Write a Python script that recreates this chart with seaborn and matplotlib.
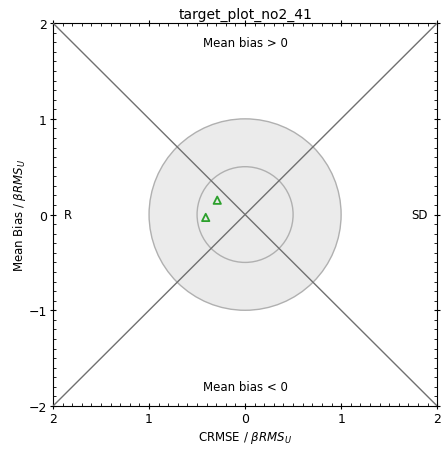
import numpy as np
import pandas as pd
import matplotlib
matplotlib.use('Agg')
import matplotlib.pyplot as plt
import seaborn as sns
from matplotlib.patches import Circle
from matplotlib.ticker import MultipleLocator, FuncFormatter

# 数据
crmse = [-0.29, -0.41]
mean_bias = [0.15, -0.03]
outer_radius = 1.0
inner_radius = 0.5
ticks = [-2, -1, 0, 1, 2]

df = pd.DataFrame({'crmse': crmse, 'bias': mean_bias})

fig = plt.figure(figsize=(4.42, 4.52), dpi=100)
ax = fig.add_axes([0.12, 0.0996, 0.869, 0.847])

# 外圆 / 内圆
ax.add_patch(Circle((0, 0), outer_radius, facecolor='#ebebeb', edgecolor='#b0b0b0', lw=1, zorder=1))
ax.add_patch(Circle((0, 0), inner_radius, facecolor='none', edgecolor='#b0b0b0', lw=1, zorder=2))

# 对角线
ax.plot([-2, 2], [-2, 2], color='#707070', lw=1, zorder=3)
ax.plot([-2, 2], [2, -2], color='#707070', lw=1, zorder=3)

sns.scatterplot(data=df, x='crmse', y='bias', marker='^', s=28,
                facecolor='none', edgecolor='#2ca02c', linewidth=1.3, ax=ax, zorder=4)

ax.text(0, 1.8, 'Mean bias > 0', ha='center', va='center', fontsize=8.5)
ax.text(0, -1.8, 'Mean bias < 0', ha='center', va='center', fontsize=8.5)
ax.text(-1.85, 0, 'R', ha='center', va='center', fontsize=8.5)
ax.text(1.82, 0, 'SD', ha='center', va='center', fontsize=8.5)

ax.set_xlim(-2, 2)
ax.set_ylim(-2, 2)
ax.set_xticks(ticks)
ax.set_yticks(ticks)
ax.xaxis.set_major_formatter(FuncFormatter(lambda v, p: f'{abs(v):g}'))
ax.xaxis.set_minor_locator(MultipleLocator(0.1))
ax.yaxis.set_minor_locator(MultipleLocator(0.1))
ax.tick_params(which='both', top=True, right=True, labelsize=9)
ax.tick_params(which='minor', direction='in', length=2.5)
ax.tick_params(which='major', direction='inout', length=5, pad=2)

ax.set_title('target_plot_no2_41', fontsize=10, pad=4)
ax.set_xlabel(r'CRMSE / $\beta RMS_U$', fontsize=8.5, labelpad=3)
ax.set_ylabel(r'Mean Bias / $\beta RMS_U$', fontsize=8.5, labelpad=0)

fig.savefig('out.png', dpi=100)
